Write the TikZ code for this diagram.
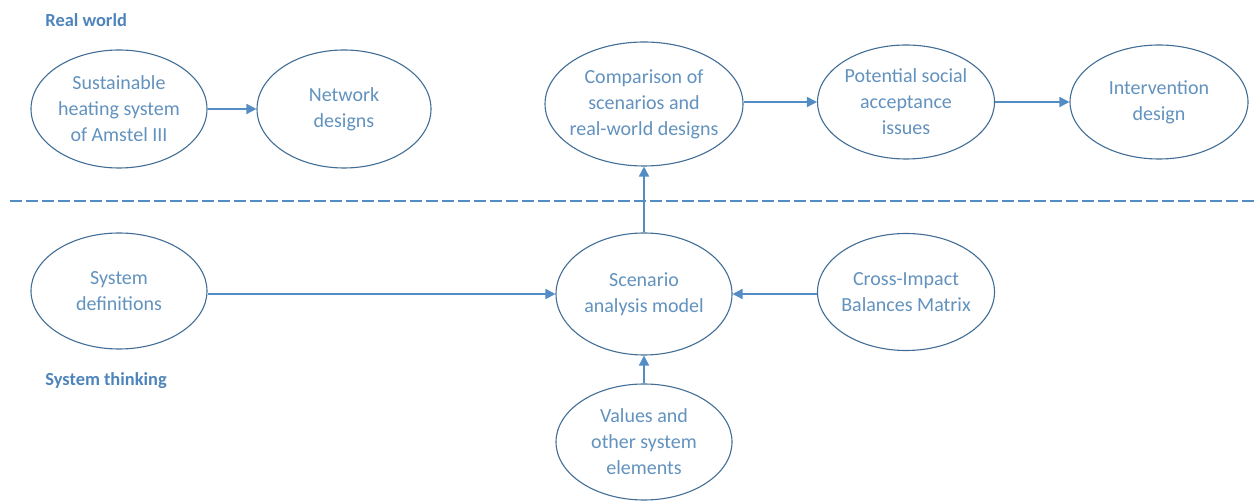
\documentclass[tikz,border=0pt]{standalone}
\usepackage{fontspec}
\setmainfont{Carlito}
\usetikzlibrary{shapes.geometric,arrows.meta}

\definecolor{txtblue}{RGB}{98,146,190}
\definecolor{rimblue}{RGB}{66,110,150}
\definecolor{arrblue}{RGB}{84,140,196}
\definecolor{headblue}{RGB}{78,132,188}

\tikzset{
  oval/.style args={#1/#2}{ellipse, draw=rimblue, line width=0.55pt, fill=white,
    minimum width=#1*0.5pt, minimum height=#2*0.5pt, inner sep=0pt},
  ovaltext/.style={text=txtblue, align=center, font=\fontsize{10}{13}\selectfont},
  flow/.style={draw=arrblue, line width=0.8pt,
    -{Triangle[length=5pt,width=5pt,fill=arrblue]}},
  region/.style={text=headblue, font=\bfseries\fontsize{9.2}{11}\selectfont, anchor=west, inner sep=0pt},
  divider/.style={draw=arrblue, line width=0.6pt, dash pattern=on 6pt off 2pt}
}

\begin{document}
\begin{tikzpicture}[x=0.5pt, y=-0.5pt]
  \useasboundingbox (0,0) rectangle (1256,501);

  % region headings
  \node[region] (rw) at (45,20) {Real world};
  \node[region] (st) at (45,381) {System thinking};

  % divider between the two regions
  \coordinate (dl) at (10,201);
  \coordinate (dr) at (1254,201);
  \draw[divider] (dl) -- (dr);

  % real-world row
  \node[oval=176/118, label={[ovaltext]center:Sustainable\\heating system\\of Amstel III}] (sus) at (119,109) {};
  \node[oval=174/118, label={[ovaltext]center:Network\\designs}] (net) at (344,109) {};
  \node[oval=198/124, label={[ovaltext]center:Comparison of\\scenarios and\\real-world designs}] (cmp) at (644,104) {};
  \node[oval=177/114, label={[ovaltext]center:Potential social\\acceptance\\issues}] (pot) at (906,102) {};
  \node[oval=178/114, label={[ovaltext]center:Intervention\\design}] (int) at (1159,102) {};

  % system-thinking row
  \node[oval=176/116, label={[ovaltext]center:System\\definitions}] (sys) at (119,291) {};
  \node[oval=176/122, label={[ovaltext]center:Scenario\\analysis model}] (scn) at (644,294) {};
  \node[oval=177/117, label={[ovaltext]center:Cross-Impact\\Balances Matrix}] (cib) at (906,292) {};
  \node[oval=176/116, label={[ovaltext]center:Values and\\other system\\elements}] (val) at (644,442) {};

  % connectors
  \draw[flow] (sus.east) -- (net.west);
  \draw[flow] (cmp.east |- pot.east) -- (pot.west);
  \draw[flow] (pot.east) -- (int.west);
  \draw[flow] (scn.north) -- (cmp.south);
  \draw[flow] (sys.east |- scn.west) -- (scn.west);
  \draw[flow] (cib.west |- scn.east) -- (scn.east);
  \draw[flow] (val.north) -- (scn.south);
\end{tikzpicture}
\end{document}
